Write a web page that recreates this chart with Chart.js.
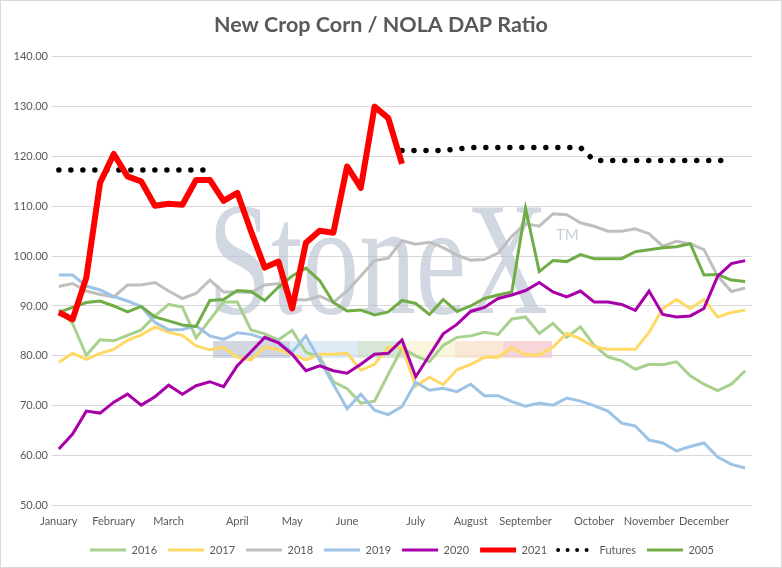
<!DOCTYPE html>
<html lang="en">
<head>
  <meta charset="UTF-8">
  <title>New Crop Corn / NOLA DAP Ratio</title>
  <script src="https://cdn.jsdelivr.net/npm/chart.js"></script>
  <style>
    body {
      margin: 0;
      background: #ffffff;
    }
    #wrap {
      width: 782px;
      height: 568px;
      position: relative;
    }
    canvas {
      display: block;
    }
  </style>
</head>
<body>
  <div id="wrap">
    <canvas id="ratioChart" width="782" height="568"></canvas>
  </div>
  <script>
    // weekly points, 51 per year; month names sit on the first week of each month
    const monthNames = ['January', 'February', 'March', 'April', 'May', 'June',
      'July', 'August', 'September', 'October', 'November', 'December'];
    const monthWeek = [0, 4, 8, 13, 17, 21, 26, 30, 34, 39, 43, 47];
    const weekCount = 51;

    const y2016 = [89.3, 86.5, 80.1, 83.2, 83.0, 84.1, 85.2, 88.0, 90.3, 89.8, 83.6, 87.2, 90.8, 90.8, 85.2, 84.4, 83.2,
      85.1, 80.7, 79.8, 74.8, 73.4, 70.5, 70.9, 76.3, 81.5, 80.0, 78.8, 82.1, 83.7, 84.0, 84.7, 84.3, 87.4,
      87.8, 84.5, 86.5, 83.7, 85.8, 82.1, 79.8, 79.0, 77.3, 78.3, 78.2, 78.8, 76.0, 74.3, 73.0, 74.3, 77.0];
    const y2017 = [78.7, 80.5, 79.3, 80.5, 81.3, 83.1, 84.2, 85.8, 84.7, 84.1, 82.0, 81.2, 81.7, 79.7, 79.2, 81.8, 81.2,
      80.3, 79.2, 80.3, 80.3, 80.5, 77.1, 78.3, 81.7, 81.7, 73.9, 75.7, 74.2, 77.2, 78.3, 79.7, 79.7, 81.6,
      80.2, 80.2, 81.7, 84.5, 83.4, 81.8, 81.3, 81.3, 81.3, 84.7, 89.5, 91.3, 89.5, 91.3, 87.8, 88.7, 89.2];
    const y2018 = [93.9, 94.5, 93.0, 92.3, 91.8, 94.2, 94.2, 94.7, 93.0, 91.5, 92.5, 95.2, 92.8, 92.8, 92.7, 94.2, 94.5,
      91.3, 91.2, 92.0, 90.7, 93.0, 96.0, 99.1, 99.6, 103.1, 102.4, 102.8, 101.7, 100.2, 99.2, 99.3, 100.6, 104.0,
      106.5, 106.0, 108.5, 108.3, 106.7, 106.0, 105.0, 105.0, 105.5, 104.5, 102.0, 103.0, 102.5, 101.3, 96.0, 92.9, 93.6];
    const y2019 = [96.2, 96.2, 94.0, 93.2, 91.9, 91.0, 89.9, 86.7, 85.2, 85.3, 86.0, 84.0, 83.3, 84.6, 84.3, 83.4, 82.8,
      80.7, 84.0, 79.1, 74.3, 69.4, 72.3, 69.1, 68.2, 69.8, 74.7, 73.1, 73.5, 72.8, 74.3, 72.0, 72.0, 70.8,
      69.9, 70.5, 70.1, 71.5, 70.9, 70.0, 68.9, 66.5, 65.9, 63.1, 62.5, 60.9, 61.8, 62.5, 59.7, 58.2, 57.5];
    const y2020 = [61.3, 64.3, 68.9, 68.5, 70.7, 72.3, 70.1, 71.8, 74.1, 72.3, 74.0, 74.8, 73.8, 78.0, 80.8, 83.7, 82.6,
      80.3, 77.0, 78.0, 77.0, 76.5, 78.3, 80.3, 80.5, 83.2, 75.8, 80.1, 84.4, 86.3, 88.9, 89.7, 91.5, 92.2,
      93.1, 94.7, 92.8, 91.8, 93.0, 90.8, 90.8, 90.3, 89.1, 93.0, 88.3, 87.8, 88.0, 89.5, 96.0, 98.5, 99.1];
    const y2021 = [88.7, 87.3, 95.7, 114.7, 120.5, 116.0, 115.0, 110.1, 110.5, 110.3, 115.3, 115.3, 111.1, 112.7, 105.0,
      97.7, 98.9, 89.5, 102.7, 105.1, 104.7, 118.0, 113.7, 130.0, 127.7, 118.5];
    const futures = [117.3, 117.3, 117.3, 117.3, 117.3, 117.3, 117.3, 117.3, 117.3, 117.3, 117.3, 117.3,
      null, null, null, null, null, null, null, null, null, null, null, null, null,
      121.2, 121.2, 121.2, 121.2, 121.5, 121.8, 121.8, 121.8, 121.8, 121.8, 121.8, 121.8, 121.8, 121.8,
      119.2, 119.2, 119.2, 119.2, 119.2, 119.2, 119.2, 119.2, 119.2, 119.2, 119.2];
    const y2005 = [88.7, 89.7, 90.7, 91.0, 90.0, 88.8, 89.9, 87.8, 87.0, 86.2, 85.9, 91.1, 91.3, 93.1, 92.9, 91.1, 93.8,
      96.0, 97.6, 95.1, 90.7, 89.0, 89.2, 88.2, 88.8, 91.1, 90.5, 88.3, 91.3, 88.9, 90.0, 91.5, 92.2, 92.8,
      109.6, 96.9, 99.1, 98.9, 100.3, 99.5, 99.5, 99.5, 100.9, 101.3, 101.7, 101.9, 102.5, 96.2, 96.3, 95.2, 94.9];

    const labels = [];
    for (let i = 0; i < weekCount; i++) {
      const m = monthWeek.indexOf(i);
      labels.push(m >= 0 ? monthNames[m] : '');
    }

    const font = 'Lato, "Open Sans", sans-serif';
    const textGrey = '#595959';

    function series(label, data, color, width, order) {
      return {
        label: label,
        data: data,
        borderColor: color,
        backgroundColor: color,
        borderWidth: width,
        pointRadius: 0,
        tension: 0,
        order: order
      };
    }

    const futuresSet = series('Futures', futures, '#000000', 5.5, 1);
    futuresSet.borderDash = [0.001, 12];
    futuresSet.borderCapStyle = 'round';
    futuresSet.spanGaps = false;

    const redSet = series('2021', y2021, '#FF0000', 6, 0);
    redSet.borderJoinStyle = 'round';

    // StoneX watermark behind the lines
    const watermark = {
      id: 'watermark',
      beforeDatasetsDraw(chart) {
        const ctx = chart.ctx;
        ctx.save();
        const strip = [
          [213, 290, 'rgba(170,182,198,0.55)'],
          [290, 358, 'rgba(200,222,240,0.6)'],
          [358, 405, 'rgba(190,214,192,0.6)'],
          [405, 455, 'rgba(246,242,206,0.7)'],
          [455, 503, 'rgba(248,222,196,0.7)'],
          [503, 552, 'rgba(242,196,200,0.7)']
        ];
        strip.forEach(s => {
          ctx.fillStyle = s[2];
          ctx.fillRect(s[0], 341, s[1] - s[0], 17);
        });
        ctx.fillStyle = 'rgba(180,192,206,0.62)';
        ctx.font = '160px "Liberation Serif", "DejaVu Serif", serif';
        ctx.textBaseline = 'alphabetic';
        const w = ctx.measureText('StoneX').width;
        ctx.translate(208, 313);
        ctx.scale(340 / w, 1);
        ctx.fillText('StoneX', 0, 0);
        ctx.restore();
        ctx.save();
        ctx.fillStyle = 'rgba(180,192,206,0.75)';
        ctx.font = '15px ' + font;
        ctx.fillText('TM', 556, 235);
        ctx.restore();
      },
      afterDraw(chart) {
        const ctx = chart.ctx;
        ctx.save();
        ctx.strokeStyle = '#D9D9D9';
        ctx.lineWidth = 1;
        ctx.strokeRect(0.5, 0.5, chart.width - 1, chart.height - 1);
        ctx.restore();
      }
    };

    new Chart(document.getElementById('ratioChart'), {
      type: 'line',
      data: {
        labels: labels,
        datasets: [
          series('2016', y2016, '#A9D18E', 3, 7),
          series('2017', y2017, '#FFD966', 3, 6),
          series('2018', y2018, '#BFBFBF', 3, 8),
          series('2019', y2019, '#9DC3E6', 3, 5),
          series('2020', y2020, '#A800A8', 3, 3),
          redSet,
          futuresSet,
          series('2005', y2005, '#70AD47', 3, 4)
        ]
      },
      options: {
        responsive: false,
        animation: false,
        layout: {
          padding: { left: 10, right: 30, top: 0, bottom: 2.5 }
        },
        plugins: {
          title: {
            display: true,
            text: 'New Crop Corn / NOLA DAP Ratio',
            color: textGrey,
            font: { family: font, size: 21.5, weight: 'bold' },
            padding: { top: 12, bottom: 19 }
          },
          legend: {
            position: 'bottom',
            fullSize: false,
            labels: {
              color: textGrey,
              font: { family: font, size: 11 },
              usePointStyle: true,
              pointStyleWidth: 36,
              boxHeight: 8,
              padding: 11,
              generateLabels(chart) {
                return chart.data.datasets.map((ds, i) => ({
                  text: ds.label,
                  datasetIndex: i,
                  pointStyle: 'line',
                  strokeStyle: ds.borderColor,
                  fillStyle: ds.borderColor,
                  fontColor: textGrey,
                  lineWidth: ds.label === 'Futures' ? 4 : (ds.label === '2021' ? 5 : 3),
                  lineDash: ds.label === 'Futures' ? [0.001, 9.5] : [],
                  lineCap: ds.label === 'Futures' ? 'round' : 'butt'
                }));
              }
            }
          },
          tooltip: { enabled: false }
        },
        scales: {
          x: {
            offset: true,
            grid: { display: false },
            border: { display: false },
            ticks: {
              autoSkip: false,
              maxRotation: 0,
              color: textGrey,
              font: { family: font, size: 11 },
              padding: 2
            },
            afterFit(scale) {
              scale.height += 3;
            }
          },
          y: {
            min: 50,
            max: 140,
            grid: { color: '#D9D9D9', drawTicks: false },
            border: { display: false },
            ticks: {
              stepSize: 10,
              color: textGrey,
              font: { family: font, size: 11 },
              padding: 4,
              callback: v => v.toFixed(2)
            },
            afterFit(scale) {
              scale.width = 42;
            }
          }
        }
      },
      plugins: [watermark]
    });
  </script>
</body>
</html>
